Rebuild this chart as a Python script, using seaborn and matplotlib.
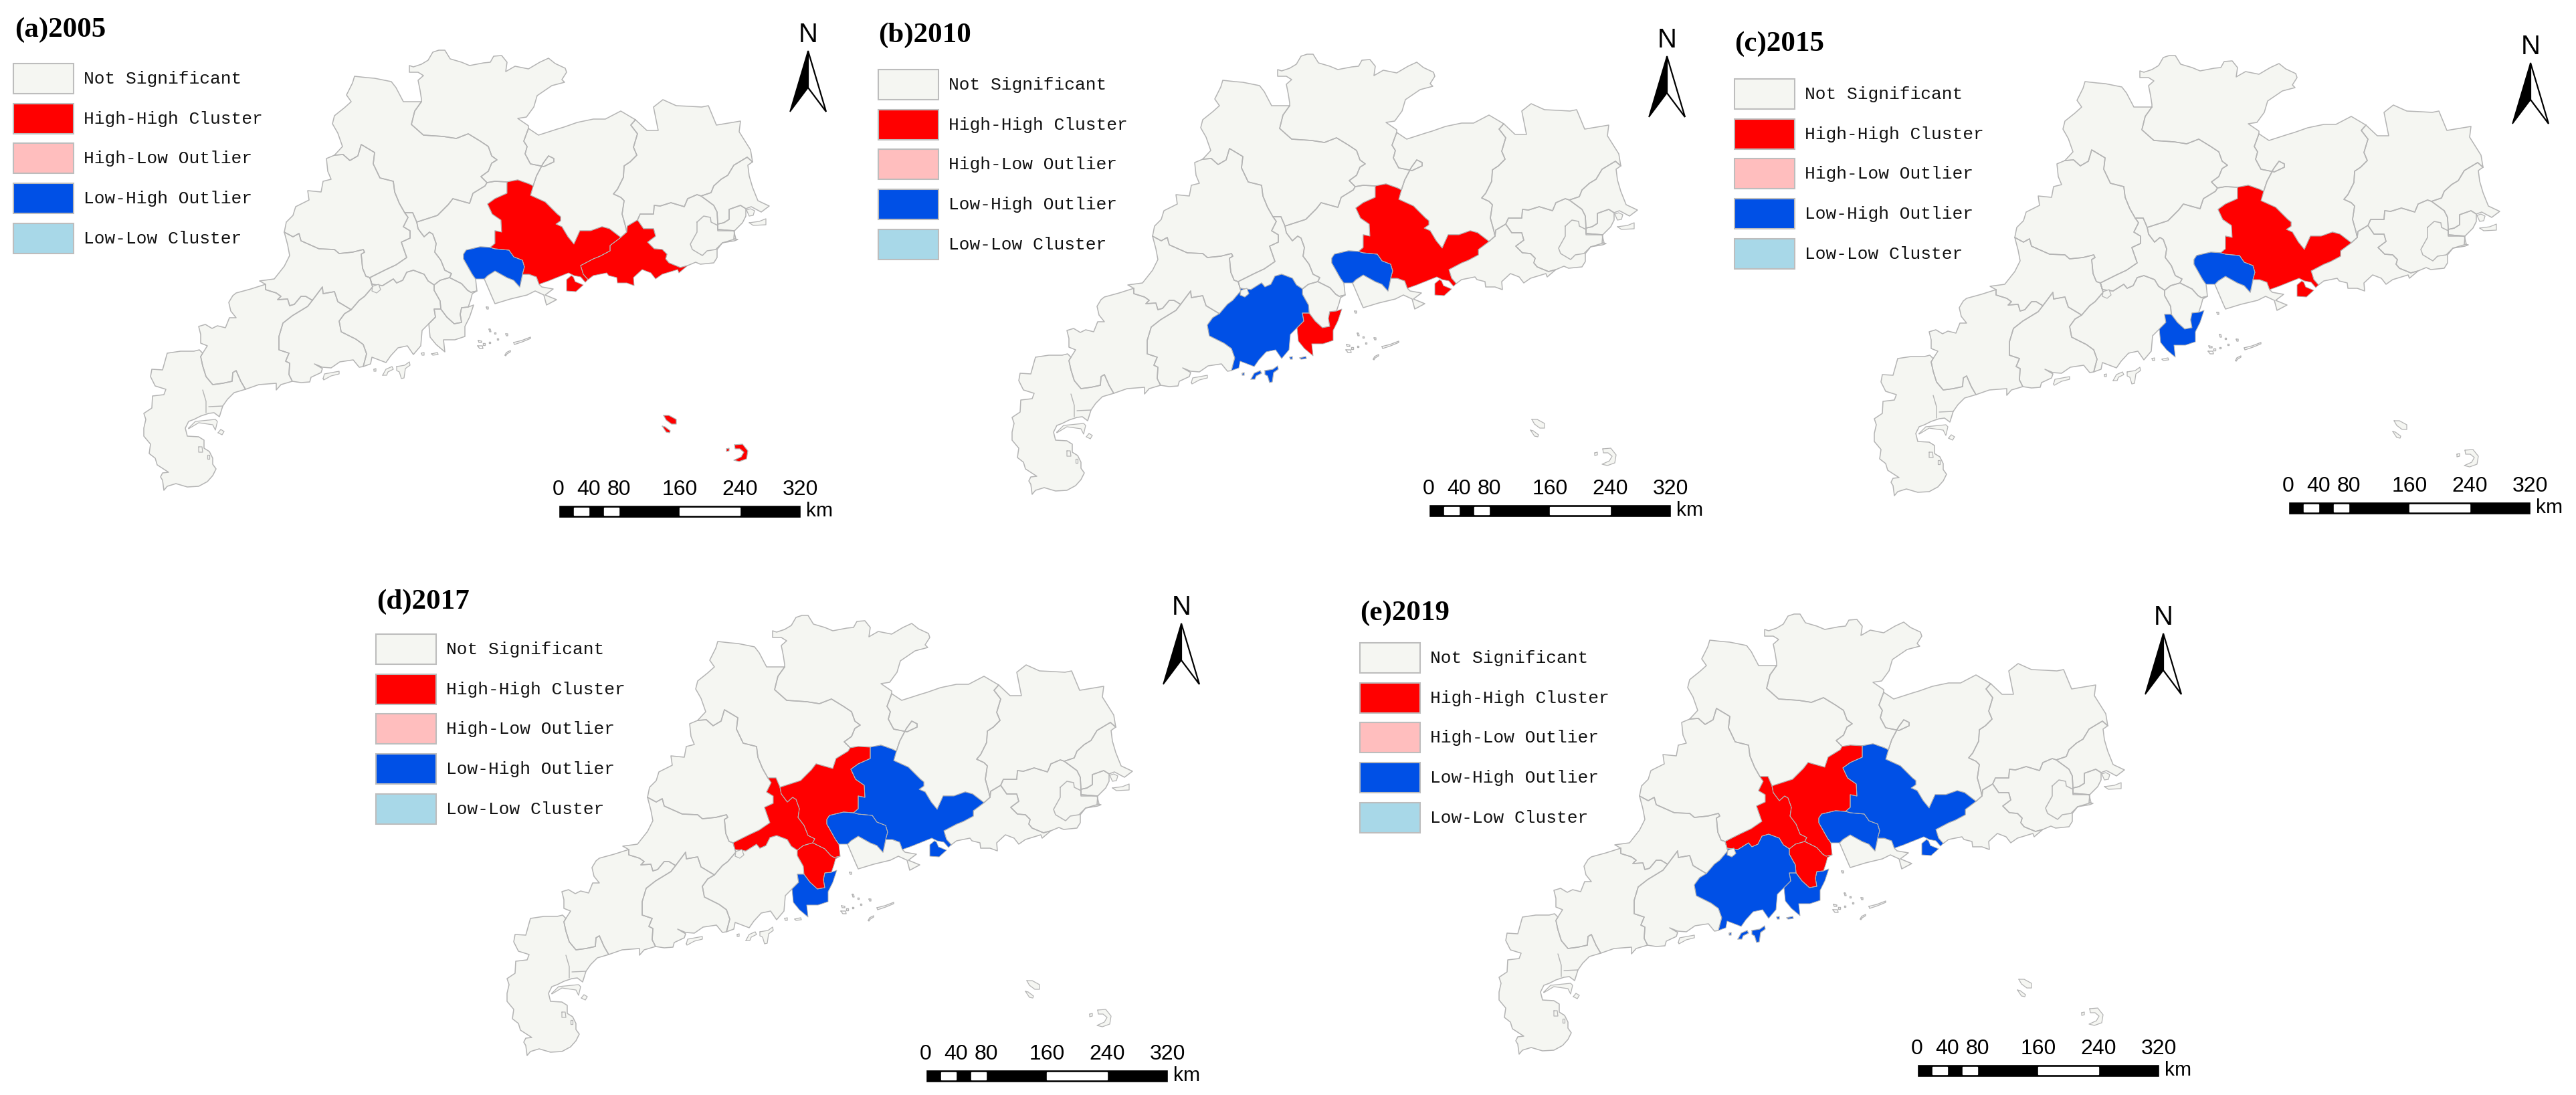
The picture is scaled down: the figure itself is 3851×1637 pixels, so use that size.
import numpy as np
import pandas as pd
import matplotlib
matplotlib.use('Agg')
import matplotlib.pyplot as plt
from matplotlib.patches import Rectangle
import seaborn as sns

# map outline, traced in pixels of panel (a); arcs are shared by neighbouring regions
sg_north = [(630,152),(630,148),(628,135),(625,120),(633,113),(625,108),(612,108),(612,98),(618,100),(630,96),(640,90),(647,78),(656,75),(665,75),(673,88),(690,93),(702,98),(723,94),(733,93),(738,84),(750,83),(758,93),(756,107),(770,99),(790,103),(807,93),(820,87),(830,95),(845,102),(847,108),(840,119),(844,123),(825,128),(803,143),(798,160),(787,175),(774,177),(790,188),(790,192)]
sg_hy = [(790,192),(783,211),(788,219),(785,230),(793,245),(813,249),(828,242),(828,237),(820,233),(812,244),(802,263),(797,278)]
sg_hz = [(797,278),(791,275),(774,269),(758,272)]
sg_gz = [(758,272),(740,271),(728,273)]
sg_qy = [(630,152),(620,166),(615,186),(633,202),(663,204),(682,207),(700,200),(718,211),(730,219),(735,233),(743,239),(735,244),(730,256),(719,264),(728,273)]
qy_outer = [(630,152),(603,152),(592,131),(585,122),(560,117),(548,116),(530,114),(527,124),(518,142),(525,152),(515,161),(500,173),(497,185),(505,199),(512,219),(500,232)]
zq_qy = [(500,232),(513,231),(523,240),(535,233),(540,216),(560,228),(558,245),(568,266),(588,271),(590,287),(597,304),(605,318)]
qy_fs = [(605,318),(617,318),(623,332)]
qy_gz = [(623,332),(654,322),(670,306),(677,297),(702,304),(707,289),(725,278),(728,273)]
zq_outer = [(500,232),(488,237),(490,256),(495,268),(483,271),(480,287),(460,285),(462,299),(442,309),(438,322),(428,332),(425,347)]
zq_yf = [(425,347),(438,354),(447,349),(450,360),(477,372),(500,373),(507,379),(527,377),(543,373),(545,377),(540,380),(542,401),(547,413),(553,415)]
zq_fs = [(553,415),(577,403),(592,396),(608,385),(600,362),(613,356),(613,345),(603,339),(610,325),(605,318)]
yf_outer = [(425,347),(430,366),(433,382),(425,398),(410,417),(388,420),(397,425)]
yf_mm = [(397,425),(397,433),(413,438),(420,443),(415,448),(430,447),(433,457),(440,455),(450,443),(457,443),(467,449)]
yf_yj = [(467,449),(482,429),(483,439),(500,436),(505,451),(525,463)]
yf_jm = [(525,463),(537,449),(545,443),(557,429),(553,415)]
mm_north = [(397,425),(375,432),(353,438),(348,442),(342,452),(345,465),(353,475),(343,475),(337,490),(325,487),(317,491),(307,485),(297,488),(300,500),(300,513),(310,517),(303,528)]
mm_zj = [(303,528),(300,533),(303,547),(308,563),(318,575),(333,573),(347,570),(348,557),(353,554),(360,570),(367,582)]
mm_coast = [(437,570),(420,575),(413,583),(413,573),(387,575),(367,582)]
mm_yj = [(467,449),(460,458),(437,472),(423,483),(417,503),(417,523),(432,528),(427,540),(433,543),(432,560),(437,570)]
zj_outer = [(367,582),(350,587),(340,597),(333,607),(328,623),(320,617),(312,618),(300,622),(290,627),(282,630),(277,640),(280,652),(297,653),(305,658),(305,670),(313,675),(318,685),(318,694),(323,701),(318,711),(310,720),(297,727),(280,728),(263,723),(250,727),(245,733),(243,718),(240,713),(243,707),(252,706),(235,695),(232,685),(223,678),(225,664),(215,652),(215,640),(218,627),(215,618),(227,610),(228,592),(245,590),(248,582),(232,577),(225,563),(227,552),(243,553),(250,528),(270,525),(290,525),(298,523),(303,528)]
yj_coast = [(437,570),(450,572),(463,571),(465,564),(480,557),(482,551),(470,544),(482,549),(495,550),(508,541),(528,538),(537,549),(543,548)]
yj_jm = [(525,463),(515,469),(507,480),(510,496),(532,507),(543,515),(548,529),(543,548)]
jm_coast = [(543,548),(554,544),(556,534),(577,542),(584,532),(595,520),(609,517),(618,530),(629,517),(631,494),(641,484)]
jm_zh = [(641,484),(651,474),(649,462),(659,462)]
jm_zs = [(659,462),(658,450),(649,434),(649,426)]
jm_fs = [(649,426),(640,420),(634,410),(618,404),(608,407),(602,419),(593,423),(588,417),(572,427),(556,425),(553,415)]
zs_zh = [(659,462),(668,474),(679,484),(690,482),(688,470),(690,460),(700,459)]
zh_coast = [(700,459),(708,456),(702,474),(695,488),(695,503),(680,508),(663,508),(665,526),(652,515),(643,504),(641,484)]
zs_coast = [(700,459),(704,447),(706,439),(713,435)]
zs_gz = [(713,435),(704,437),(699,434),(690,424),(672,415)]
zs_fs = [(672,415),(658,419),(649,426)]
fs_gz = [(672,415),(675,409),(665,404),(659,389),(650,377),(652,364),(647,350),(642,347),(634,354),(625,342),(623,332)]
gz_coast = [(713,435),(711,417)]
gz_dg = [(711,417),(706,410),(697,394),(693,387),(693,380),(697,374),(718,369),(733,370)]
gz_hz = [(733,370),(740,364),(740,345),(750,347),(749,329),(736,320),(729,305),(740,297),(758,289),(758,272)]
dg_hz = [(733,370),(740,372),(761,374),(768,384),(781,389),(784,399),(781,410)]
dg_cs = [(781,410),(777,429),(768,419),(758,415),(740,405),(729,412),(724,417)]
dg_mouth = [(724,417),(711,417)]
hz_cs = [(781,410),(791,410),(802,414),(806,425)]
cs_coast = [(806,425),(810,429),(827,432),(815,441),(832,448),(817,456),(813,441),(800,435),(788,441),(763,447),(740,454),(736,445),(724,417)]
hz_coast = [(806,425),(820,420),(850,408),(858,412),(868,414),(875,422),(879,418)]
sw_hz = [(879,418),(872,410),(868,397),(887,387),(897,383),(912,375),(912,367),(928,355)]
hz_hy = [(928,355),(911,342),(900,339),(883,345),(867,345),(858,365),(849,354),(840,339),(831,335),(838,330),(838,324),(833,320),(815,302),(793,292),(797,278)]
sw_hy = [(928,355),(937,347)]
hy_north = [(790,192),(805,202),(833,193),(843,190),(863,183),(887,178),(905,178),(928,166),(950,179)]
hy_mz = [(950,179),(943,187),(953,200),(950,210),(947,220),(952,232),(942,242),(933,248),(932,265),(923,283),(917,290),(928,295),(933,300),(930,320),(935,338),(937,347)]
mz_north = [(950,179),(967,195),(984,195),(977,160),(991,149),(1011,158),(1032,159),(1049,160),(1059,158),(1071,187),(1107,181),(1105,197),(1122,224),(1125,242)]
mz_cz = [(1125,242),(1117,235),(1097,247),(1088,262),(1078,268),(1067,278),(1063,288),(1048,293)]
mz_jy = [(1048,293),(1042,291),(1028,297),(1023,309),(1003,303),(987,308),(978,307),(977,320),(957,320),(953,329)]
mz_sw = [(953,329),(938,338),(937,347)]
sw_jy = [(953,329),(962,342),(977,342),(980,353),(968,362),(978,372),(990,373),(997,380),(995,387),(1000,393),(1017,400),(1028,397)]
sw_coast = [(879,418),(887,412),(907,408),(910,412),(922,415),(923,423),(937,423),(948,427),(947,415),(960,403),(973,408),(980,417),(990,410),(1013,403),(1015,408),(1028,397)]
jy_coast = [(1028,397),(1040,392),(1047,395),(1067,393),(1072,385),(1072,373),(1080,363),(1098,360),(1103,358),(1097,357),(1098,345)]
jy_ne = [(1048,293),(1067,307),(1072,317),(1073,335),(1073,343),(1098,345)]
cz_east = [(1125,242),(1118,247),(1120,263),(1125,280),(1133,300),(1150,308),(1138,317),(1123,309),(1115,312),(1107,307),(1090,313),(1090,328),(1082,333),(1073,335),(1072,317),(1067,307),(1048,293)]
st_shape = [(1073,335),(1082,333),(1090,328),(1090,313),(1107,307),(1115,312),(1115,323),(1110,333),(1098,345),(1073,343),(1073,335)]
jy_inner = [(1042,332),(1052,323),(1062,325),(1063,332),(1073,337),(1073,345),(1097,345),(1100,357),(1080,363),(1070,373),(1057,375),(1050,382),(1035,373),(1032,365),(1042,347),(1042,332)]
sz_shape = [(854,412),(847,418),(847,435),(861,436),(872,426),(860,421),(857,414),(854,412)]

# islands, each list is one small closed outline
jm_isles = [[(572,561),(577,552),(586,548),(588,552),(580,556),(578,561)], [(593,548),(605,546),(612,541),(613,546),(606,551),(604,565),(600,566),(597,556),(593,554)], [(645,529),(654,527),(655,530),(647,531)], [(630,528),(634,527),(634,531),(631,531)], [(559,552),(562,551),(562,555),(559,555)]]
zh_isles = [[(727,459),(730,459),(730,462),(728,462)], [(731,492),(733,492),(734,496),(732,496)], [(739,497),(741,497),(741,499),(739,499)], [(756,499),(759,499),(759,502),(757,502)], [(743,506),(745,506),(745,508),(743,508)], [(715,509),(720,510),(720,512),(716,512)], [(722,513),(725,513),(725,516),(722,516)], [(731,511),(733,511),(733,513),(731,513)], [(714,517),(721,517),(722,521),(717,521)], [(768,512),(780,509),(793,504),(793,506),(781,511),(769,515)], [(755,531),(757,527),(763,524),(763,526),(758,529),(756,532)]]
sw_isles = [[(992,621),(1000,621),(1011,627),(1011,634),(1004,634),(996,628)], [(990,637),(994,638),(1002,644),(1001,647),(996,646)], [(1098,665),(1110,664),(1118,674),(1116,686),(1105,690),(1097,688),(1108,683),(1112,676),(1106,671),(1099,671)], [(1086,671),(1090,670),(1090,674),(1086,675)]]
yj_isles = [[(483,566),(485,559),(507,555),(507,559),(495,562),(484,568)]]
cz_isles = [[(1120,333),(1135,331),(1145,327),(1145,336),(1126,337)], [(1116,314),(1122,312),(1128,315),(1126,322),(1120,323)]]
zj_isles = [[(326,647),(330,642),(335,645),(332,650)], [(282,640),(292,630),(322,627),(325,630),(322,643),(318,635),(297,632),(282,641)], [(297,668),(302,668),(303,676),(297,676)], [(310,680),(313,680),(313,686),(310,686)]]
zs_lake = [(557,428),(566,425),(569,433),(563,438),(556,435),(557,428)]
zj_lines = [[(303,583),(308,600),(308,617)], [(312,608),(333,607)]]

region_names = ['Shaoguan','Qingyuan','Zhaoqing','Yunfu','Maoming','Zhanjiang','Yangjiang','Jiangmen','Zhuhai','Zhongshan','Foshan','Guangzhou','Dongguan','Coast','Huizhou','Shenzhen','Shanwei','Heyuan','Meizhou','Jieyang','Chaozhou','Shantou','JieyangSouth']

# which arcs make each region, '-' means run the arc backwards
region_arcs = {
    'Shaoguan': ['sg_north','sg_hy','sg_hz','sg_gz','-sg_qy'],
    'Qingyuan': ['qy_outer','zq_qy','qy_fs','qy_gz','-sg_qy'],
    'Zhaoqing': ['zq_outer','zq_yf','zq_fs','-zq_qy'],
    'Yunfu': ['yf_outer','yf_mm','yf_yj','yf_jm','-zq_yf'],
    'Maoming': ['mm_north','mm_zj','-mm_coast','-mm_yj','-yf_mm'],
    'Zhanjiang': ['zj_outer','mm_zj'],
    'Yangjiang': ['mm_yj','yj_coast','-yj_jm','-yf_yj'],
    'Jiangmen': ['yj_jm','jm_coast','jm_zh','jm_zs','jm_fs','-yf_jm'],
    'Zhuhai': ['zs_zh','zh_coast','jm_zh'],
    'Zhongshan': ['-jm_zs','zs_zh','zs_coast','zs_gz','zs_fs'],
    'Foshan': ['-zq_fs','-jm_fs','-zs_fs','fs_gz','-qy_fs'],
    'Guangzhou': ['-fs_gz','-zs_gz','gz_coast','gz_dg','gz_hz','sg_gz','-qy_gz'],
    'Dongguan': ['-gz_dg','-dg_mouth','-dg_cs','-dg_hz'],
    'Coast': ['hz_cs','cs_coast','-dg_cs'],
    'Huizhou': ['-gz_hz','dg_hz','hz_cs','hz_coast','sw_hz','hz_hy','sg_hz'],
    'Shenzhen': ['sz_shape'],
    'Shanwei': ['sw_coast','-sw_jy','mz_sw','-sw_hy','-sw_hz'],
    'Heyuan': ['hy_north','hy_mz','-sw_hy','hz_hy','-sg_hy'],
    'Meizhou': ['mz_north','mz_cz','mz_jy','mz_sw','-hy_mz'],
    'Jieyang': ['-mz_jy','jy_ne','-jy_coast','-sw_jy'],
    'Chaozhou': ['cz_east','-mz_cz'],
    'Shantou': ['st_shape'],
    'JieyangSouth': ['jy_inner'],
}
region_isles = {'Jiangmen': jm_isles, 'Shanwei': sw_isles, 'Yangjiang': yj_isles, 'Chaozhou': cz_isles, 'Zhanjiang': zj_isles}

# LISA result per year
years = ['(a)2005','(b)2010','(c)2015','(d)2017','(e)2019']
high_high = [['Huizhou','Shanwei','Shenzhen'], ['Huizhou','Shenzhen','Zhuhai'], ['Huizhou','Shenzhen'], ['Foshan','Guangzhou','Zhongshan'], ['Foshan','Guangzhou','Zhongshan']]
low_high = [['Dongguan'], ['Dongguan','Jiangmen'], ['Dongguan','Zhuhai'], ['Huizhou','Dongguan','Shenzhen','Zhuhai'], ['Huizhou','Dongguan','Shenzhen','Zhuhai','Jiangmen']]

legend_labels = ['Not Significant','High-High Cluster','High-Low Outlier','Low-High Outlier','Low-Low Cluster']
scale_km = [0, 20, 40, 60, 80, 160, 240, 320]
scale_ticks = [0, 40, 80, 160, 240, 320]

# layout in figure pixels, one entry per panel
W, H = 3851, 1637
map_origin = [(0,0), (1298,6), (2587,8), (543,845), (2026,843)]
title_pos = [(22,45), (1313,53), (2593,66), (563,900), (2033,917)]
legend_pos = [(20,95), (1313,104), (2593,118), (562,948), (2033,961)]
north_pos = [(1208,76), (2492,84), (3783,94), (1766,932), (3234,947)]
bar_pos = [(835,755), (2136,754), (3421,750), (1384,1599), (2866,1591)]
PX_PER_KM = 1.13

sns.set_theme(style='white')
cluster_colors = sns.color_palette(['#F5F6F2', '#FF0000', '#FFBEBE', '#0050E6', '#A8D8E8'])
edge_gray = '#B4B4B4'
arcs = dict(globals())


def region_points(name):
    pts = []
    for a in region_arcs[name]:
        seg = arcs[a.lstrip('-')]
        pts.extend(seg[::-1] if a.startswith('-') else seg)
    return np.array(pts, dtype=float)


def px(v):
    # font size in points for a height in pixels at dpi 100
    return v * 0.72


table = pd.DataFrame(0, index=region_names, columns=years)
for y, hh, lh in zip(years, high_high, low_high):
    table.loc[hh, y] = 1
    table.loc[lh, y] = 3

fig = plt.figure(figsize=(W / 100, H / 100), dpi=100, facecolor='white')
ax = fig.add_axes([0, 0, 1, 1])
ax.set_xlim(0, W)
ax.set_ylim(H, 0)
ax.set_autoscale_on(False)
sns.despine(ax=ax, left=True, bottom=True)
ax.axis('off')


def draw_outline(pts, ox, oy, color, fill, lw=1.1, z=2):
    x = pts[:, 0] + ox
    y = pts[:, 1] + oy
    if fill is not None:
        ax.fill(x, y, facecolor=fill, edgecolor='none', zorder=z)
    closed_x = np.append(x, x[0])
    closed_y = np.append(y, y[0])
    sns.lineplot(x=closed_x, y=closed_y, sort=False, estimator=None, color=color,
                 linewidth=lw, ax=ax, legend=False, zorder=z + 0.5)


for i, year in enumerate(years):
    ox, oy = map_origin[i]
    # plain regions first so coloured ones sit on top
    order = sorted(region_names, key=lambda r: table.loc[r, year] != 0)
    for name in order:
        cat = table.loc[name, year]
        fill = cluster_colors[cat]
        lw = 1.1 if cat == 0 else 0.7
        draw_outline(region_points(name), ox, oy, edge_gray, fill, lw=lw, z=2 + (cat != 0))
        for isle in region_isles.get(name, []):
            draw_outline(np.array(isle, dtype=float), ox, oy, edge_gray, fill, lw=0.9, z=4)
    # the small offshore isles read as grey outlines in every year
    for isle in zh_isles:
        draw_outline(np.array(isle, dtype=float), ox, oy, edge_gray, None, lw=1.0, z=4)
    draw_outline(np.array(zs_lake, dtype=float), ox, oy, edge_gray, cluster_colors[0], lw=0.9, z=4)
    for line in zj_lines:
        ax.plot(np.array(line)[:, 0] + ox, np.array(line)[:, 1] + oy, color=edge_gray, lw=1.0, zorder=4)

    # title
    tx, ty = title_pos[i]
    ax.text(tx, ty, year, family='Liberation Serif', weight='bold', fontsize=px(43),
            color='black', ha='left', va='center', zorder=6)

    # legend
    lx, ly = legend_pos[i]
    for j, label in enumerate(legend_labels):
        by = ly + j * 59.7
        ax.add_patch(Rectangle((lx, by), 90, 45, facecolor=cluster_colors[j],
                               edgecolor='#BDBDBD', linewidth=1.5, zorder=5))
        ax.text(lx + 105, by + 23, label, family='Liberation Mono', fontsize=px(26.2),
                color='#111111', ha='left', va='center', zorder=6)

    # north arrow
    nx, ny = north_pos[i]
    ax.fill([nx, nx - 27, nx], [ny, ny + 91, ny + 55], facecolor='black', edgecolor='black', lw=1.2, zorder=6)
    ax.fill([nx, nx, nx + 27], [ny, ny + 55, ny + 91], facecolor='white', edgecolor='black', lw=1.6, zorder=6)
    ax.text(nx, ny - 24, 'N', family='Liberation Sans', fontsize=px(40), color='black',
            ha='center', va='center', zorder=6)

    # scale bar, drawn from the km values
    bx, by = bar_pos[i]
    km = np.array(scale_km) * PX_PER_KM + bx
    ax.barh(by + 9.5, km[-1] - km[0], left=km[0], height=19, color='black', zorder=6)
    for k in range(1, len(km) - 1, 2):
        ax.barh(by + 9.5, km[k + 1] - km[k], left=km[k], height=11, color='white', zorder=7)
    for tick in scale_ticks:
        ax.text(bx + tick * PX_PER_KM, by - 23, str(tick), family='Liberation Sans', fontsize=px(32),
                color='black', ha='center', va='center', zorder=6)
    ax.text(km[-1] + 8, by + 9, 'km', family='Liberation Sans', fontsize=px(30), color='black',
            ha='left', va='center', zorder=6)

ax.set_xlabel('')
ax.set_ylabel('')
fig.savefig('out.png', dpi=100, facecolor='white')
